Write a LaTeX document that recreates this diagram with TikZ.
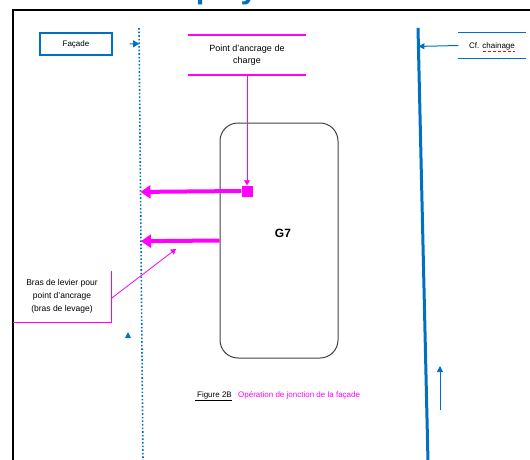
\documentclass[tikz,border=0pt]{standalone}
\usepackage{fontspec}
\setmainfont{Liberation Sans}
\usetikzlibrary{arrows.meta,calc}
\definecolor{mag}{RGB}{255,0,255}
\definecolor{blu}{RGB}{0,112,192}
\tikzset{
  txt/.style={font=\fontsize{8}{12}\selectfont, inner sep=0pt},
  maglbl/.style={txt, align=center},
  bluline/.style={draw=blu, line width=1.2pt},
  magline/.style={draw=mag, line width=1.5pt},
  forcearrow/.style={draw=mag, line width=4pt, -{Triangle[length=10pt,width=13pt]}},
  thinmag/.style={draw=mag, line width=0.8pt, -{Triangle[length=5pt,width=6pt]}},
  thinblu/.style={draw=blu, line width=1pt, -{Triangle[length=6pt,width=6pt]}},
}
\begin{document}
\begin{tikzpicture}[x=1pt,y=-1pt]
\useasboundingbox (0,0) rectangle (530,459);
% clipped heading
\begin{scope}
\clip (0,0) rectangle (530,8);
\node[anchor=base west, inner sep=0pt, text=blu, font=\bfseries\fontsize{31}{34}\selectfont] (head) at (8,-2) {Guide du display};
\end{scope}
% frame
\draw[line width=1.6pt] (13,465) -- (13,10) -- (540,10);
% dotted wall
\coordinate (d1) at (139,28);
\coordinate (d2) at (143,462);
\draw[blu, line width=1.6pt, dotted] (d1) -- (d2);
% right thick wall
\coordinate (r1) at (418,28);
\coordinate (r2) at (428,462);
\draw[blu, line width=3pt] (r1) -- (r2);
% Facade box
\node[txt, draw=blu, line width=1.2pt, minimum width=72pt, minimum height=22pt] (fasce) at (76,44) {Façade};
\draw[blu, line width=1pt, -{Triangle[length=6pt,width=7pt]}, shorten <=17pt] (fasce.east) -- ($(d1)!(fasce.east)!(d2)$);
% G7 block
\node[draw=black!75, line width=1pt, rounded corners=18pt, minimum width=118pt, minimum height=235pt] (g7) at (279,240.5) {};
\node[font=\bfseries\fontsize{12}{14}\selectfont] (g7lbl) at (283,233) {G7};
% anchor point label
\node[maglbl, font=\fontsize{9}{12}\selectfont, minimum width=117pt, minimum height=40pt] (anc) at (247,55) {Point d'ancrage de\\charge};
\draw[magline] (anc.north west) -- (anc.north east);
\draw[magline] (anc.south west) -- (anc.south east);
\node[fill=mag, minimum size=11pt, inner sep=0pt] (sq) at (247,191) {};
\draw[thinmag] (anc.south) -- (sq.north);
% force arrows
\draw[forcearrow] (sq.west) -- ($(d1)!(sq.west)!(d2)$);
\draw[forcearrow] (g7.west) -- ($(d1)!(g7.west)!(d2)$);
% lever arm label
\node[maglbl, font=\fontsize{8.5}{13}\selectfont, minimum width=98pt, minimum height=51pt] (bras) at (62,296.5) {Bras de levier pour\\point d'ancrage\\(bras de levage)};
\draw[magline, line width=1.2pt] (bras.north east) -- (bras.south east) -- (bras.south west);
\coordinate (lt) at (176,249);
\draw[thinmag] ($(bras.east)+(0,2)$) -- (lt);
% small blue marker
\fill[blu] (125,338) -- (131,338) -- (128,332) -- cycle;
% Chainage label
\node[txt, minimum width=67pt, minimum height=25pt] (ch) at (492,45.5) {};
\node[txt, anchor=base west] (chtxt) at (469,48) {Cf. chainage};
\draw[bluline] (ch.north west) -- (ch.north east);
\draw[bluline] (ch.south west) -- (ch.south east);
\draw[red, line width=0.8pt, densely dashed] (483,51) -- (chtxt.base east |- 0,51);
\draw[thinblu] (ch.west) -- ($(r1)!(ch.west)!(r2)$);
% upward arrow
\coordinate (u1) at (440,410);
\coordinate (u2) at (440,366);
\draw[thinblu] (u1) -- (u2);
% caption
\node[txt, anchor=base east] (fig) at (232,397) {\underline{\hspace{2pt}Figure 2B}};
\node[txt, anchor=base west, text=mag] (cap) at (238,397) {Opération de jonction de la façade};
\end{tikzpicture}
\end{document}
